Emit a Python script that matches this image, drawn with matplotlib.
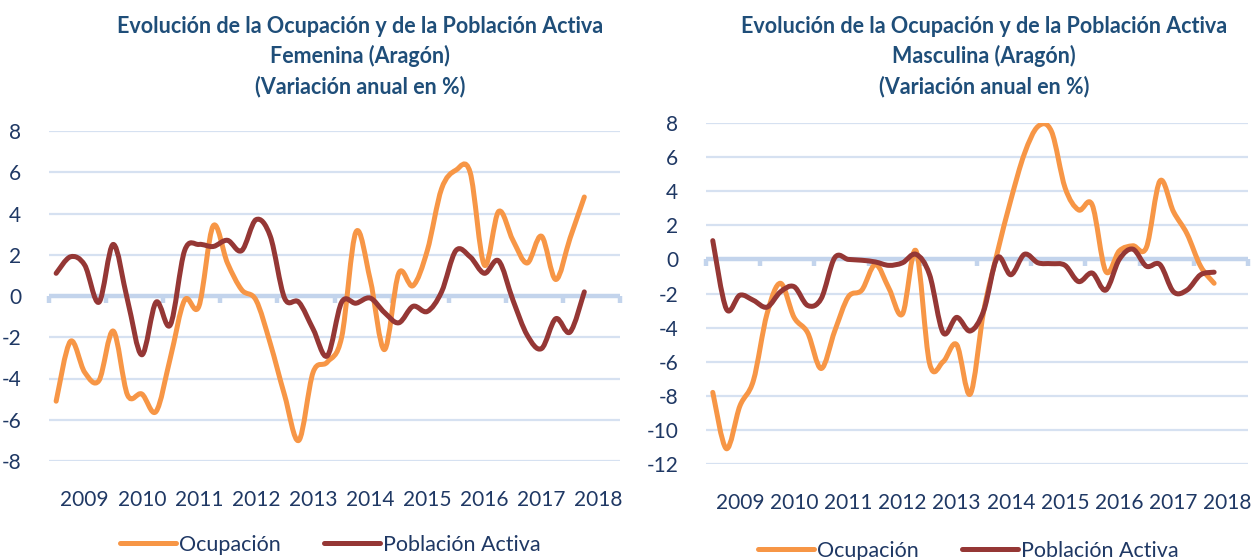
import numpy as np
import matplotlib
matplotlib.use("Agg")
import matplotlib.pyplot as plt
from matplotlib.path import Path
from matplotlib.patches import PathPatch
from matplotlib.lines import Line2D
from matplotlib.markers import TICKDOWN

# ---- data (quarterly, annual % change) ----
years = ["2009", "2010", "2011", "2012", "2013", "2014", "2015", "2016", "2017", "2018"]

fem_ocupacion = [-5.1, -2.2, -3.7, -4.1, -1.7, -4.8, -4.75, -5.6, -3.0, -0.2,
                 -0.5, 3.4, 1.6, 0.3, -0.2, -2.3, -4.8, -7.0, -3.7, -3.2,
                 -2.0, 3.1, 0.8, -2.6, 1.1, 0.5, 2.2, 5.2, 6.1, 6.0,
                 1.5, 4.1, 2.7, 1.6, 2.9, 0.8, 2.8, 4.8]
fem_activa = [1.1, 1.9, 1.5, -0.3, 2.5, -0.2, -2.85, -0.3, -1.4, 2.2,
              2.5, 2.4, 2.7, 2.2, 3.7, 2.9, -0.1, -0.3, -1.6, -2.9,
              -0.3, -0.35, -0.1, -0.8, -1.3, -0.5, -0.75, 0.2, 2.2, 1.9,
              1.1, 1.7, -0.2, -1.9, -2.55, -1.1, -1.75, 0.2]

mas_ocupacion = [-7.8, -11.1, -8.6, -7.1, -3.2, -1.4, -3.4, -4.3, -6.4, -4.2,
                 -2.2, -1.8, -0.3, -1.7, -3.2, 0.5, -6.1, -6.0, -5.0, -7.9,
                 -3.0, 0.4, 3.5, 6.2, 7.8, 7.5, 4.2, 2.9, 3.2, -0.7,
                 0.5, 0.8, 0.7, 4.6, 2.8, 1.5, -0.4, -1.4]
mas_activa = [1.1, -2.9, -2.1, -2.4, -2.8, -1.9, -1.6, -2.7, -2.3, 0.1,
              0.0, -0.05, -0.15, -0.35, -0.2, 0.3, -0.9, -4.3, -3.4, -4.2,
              -3.0, 0.1, -0.9, 0.3, -0.2, -0.25, -0.35, -1.3, -0.8, -1.8,
              0.0, 0.6, -0.4, -0.3, -1.9, -1.8, -0.9, -0.75]

titles = ["Evolución de la Ocupación y de la Población Activa\nFemenina (Aragón)\n(Variación anual en %)",
          "Evolución de la Ocupación y de la Población Activa\nMasculina (Aragón)\n(Variación anual en %)"]
series_names = ["Ocupación", "Población Activa"]

ORANGE = "#F79646"
RED = "#953735"
NAVY = "#1F3864"
TITLE_C = "#1F4E79"
GRID_C = "#D6E1F1"
ZERO_C = "#C3D4EC"
FONT = "Lato"

plt.rcParams["font.family"] = [FONT, "DejaVu Sans"]


def smooth_path(x, y):
    x = np.asarray(x, float)
    y = np.asarray(y, float)
    pts = np.column_stack([x, y])
    n = len(pts)
    verts = [pts[0]]
    codes = [Path.MOVETO]
    for i in range(n - 1):
        p0 = pts[i - 1] if i > 0 else pts[i]
        p1 = pts[i]
        p2 = pts[i + 1]
        p3 = pts[i + 2] if i + 2 < n else pts[i + 1]
        c1 = p1 + (p2 - p0) / 6.0
        c2 = p2 - (p3 - p1) / 6.0
        verts += [c1, c2, p2]
        codes += [Path.CURVE4] * 3
    return Path(verts, codes)


fig = plt.figure(figsize=(12.56, 5.6), dpi=100)

W, H = 1256, 560
panels = [
    dict(rect=(49, 131, 620, 461), ylim=(-8, 8), yticks=np.arange(-8, 9, 2),
         data=(fem_ocupacion, fem_activa), title=titles[0], title_x=360,
         leg_y=545, leg_x=330),
    dict(rect=(706, 123, 1248, 464), ylim=(-12, 8), yticks=np.arange(-12, 9, 2),
         data=(mas_ocupacion, mas_activa), title=titles[1], title_x=984,
         leg_y=551, leg_x=968),
]

for p in panels:
    x0, yt, x1, yb = p["rect"]
    ax = fig.add_axes([x0 / W, 1 - yb / H, (x1 - x0) / W, (yb - yt) / H])
    ncat = 4 * len(years)
    ax.set_xlim(-0.5, ncat - 0.5)
    ax.set_ylim(*p["ylim"])
    for s in ax.spines.values():
        s.set_visible(False)
    ax.set_yticks(p["yticks"])
    ax.set_yticklabels([str(v) for v in p["yticks"]])
    ax.tick_params(axis="y", length=0, pad=20, labelsize=15, labelcolor=NAVY)
    ax.yaxis.grid(True, color=GRID_C, lw=1.6)
    ax.set_axisbelow(True)
    ax.set_xticks([4 * k + 2.0 for k in range(len(years))])
    ax.set_xticklabels(years)
    ax.tick_params(axis="x", length=0, pad=21, labelsize=15, labelcolor=NAVY)
    # zero axis line with category tick marks
    ax.axhline(0, color=ZERO_C, lw=3.2, zorder=1.5)
    bounds = np.arange(-0.5, ncat, 4)
    ax.plot(bounds, np.zeros_like(bounds), ls="none", marker=TICKDOWN,
            ms=5, mew=3.2, color=ZERO_C, zorder=1.5, clip_on=False)

    xs = np.arange(len(p["data"][0]))
    for vals, col in zip(p["data"], [ORANGE, RED]):
        patch = PathPatch(smooth_path(xs, vals), facecolor="none", edgecolor=col,
                          lw=3.6, capstyle="round", joinstyle="round", zorder=3)
        ax.add_patch(patch)

    fig.text(p["title_x"] / W, 1 - 16 / H, p["title"], ha="center", va="top",
             fontsize=15.5, fontweight="bold", color=TITLE_C, linespacing=1.45)

    handles = [Line2D([], [], color=ORANGE, lw=3.6, solid_capstyle="round"),
               Line2D([], [], color=RED, lw=3.6, solid_capstyle="round")]
    fig.legend(handles, series_names, loc="center", ncol=2,
               bbox_to_anchor=(p["leg_x"] / W, 1 - p["leg_y"] / H), frameon=False,
               fontsize=15.5, labelcolor=NAVY, handlelength=2.6,
               handletextpad=0.15, columnspacing=2.0)

fig.savefig("out.png", dpi=100, facecolor="white")
